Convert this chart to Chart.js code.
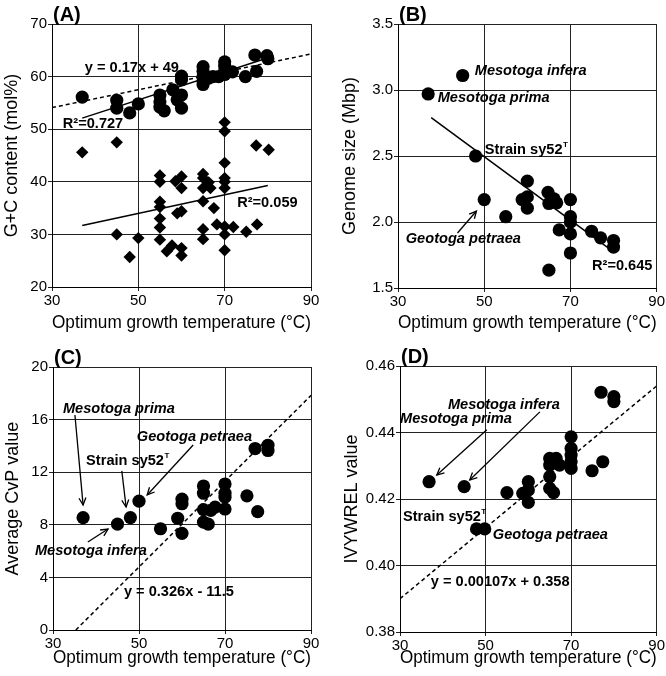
<!DOCTYPE html>
<html>
<head>
<meta charset="utf-8">
<script src="https://cdn.jsdelivr.net/npm/chart.js@4"></script>
<style>
  body { margin: 0; background: #fff; }
  #wrap { position: relative; width: 666px; height: 676px; }
  canvas { position: absolute; }
</style>
</head>
<body>
<div id="wrap">
  <canvas id="chartA" width="333" height="338" style="left:0;top:0"></canvas>
  <canvas id="chartB" width="333" height="338" style="left:333px;top:0"></canvas>
  <canvas id="chartC" width="333" height="338" style="left:0;top:338px"></canvas>
  <canvas id="chartD" width="333" height="338" style="left:333px;top:338px"></canvas>
</div>
<script>
// ---- data ----
const xTicks = [30, 50, 70, 90];

// (A) G+C content, circles (upper) and diamonds (lower)
const tempA1 = [37, 45, 45, 48, 50, 55, 55, 55, 56, 58, 59, 60, 60, 60, 60, 65, 65, 65, 65, 65, 66.3, 67.3, 68.6, 70, 70, 70, 70, 71.8, 74.8, 77, 77.4, 79.8, 80];
const gcA1   = [56.1, 55.5, 54.0, 53.1, 54.8, 56.5, 55.2, 54.2, 53.5, 57.5, 55.6, 54.0, 56.5, 59.4, 60.1, 61.9, 61.0, 60.0, 59.2, 58.5, 59.7, 60.0, 60.0, 62.8, 62.0, 61.0, 60.4, 60.9, 60.0, 64.1, 61.0, 64.0, 63.4];
const tempA2 = [37, 45, 45, 48, 50, 55, 55, 55, 55, 55, 55, 55, 56.6, 57.8, 58.6, 59, 60, 60, 60, 60, 60, 65, 65, 65, 65, 65, 65, 66.3, 66.7, 67.5, 68.2, 70, 70, 70, 70, 70, 70, 70, 70, 70, 72, 75, 77.3, 77.5, 80.2];
const gcA2   = [45.6, 47.5, 30.0, 25.7, 29.3, 41.2, 40.0, 36.2, 35.2, 33.0, 31.3, 29.0, 26.8, 27.9, 40.1, 34.0, 41.0, 38.8, 34.4, 27.4, 26.0, 41.5, 40.7, 38.8, 36.3, 31.0, 29.1, 39.9, 38.8, 35.0, 31.9, 51.3, 49.6, 43.6, 40.7, 40.0, 38.8, 31.5, 30.0, 27.0, 31.4, 30.5, 46.9, 31.9, 46.1];
const fitA1x = [30, 90], fitA1y = [54.1, 64.3];   // y = 0.17x + 49 (dashed)
const fitA2x = [37, 79], fitA2y = [52.1, 63.3];   // solid, circles
const fitA3x = [37, 80], fitA3y = [31.7, 39.3];   // solid, diamonds

// (B) genome size
const tempB = [37, 45, 48, 50, 55, 58.8, 60, 60, 60, 64.8, 65, 66.2, 66.8, 67.4, 70, 70, 70, 70, 70, 65, 74.9, 77, 80, 80];
const sizeB = [2.97, 3.11, 2.50, 2.17, 2.04, 2.17, 2.31, 2.19, 2.105, 2.225, 2.14, 2.175, 2.145, 1.94, 2.17, 2.04, 2.00, 1.91, 1.765, 1.635, 1.93, 1.88, 1.86, 1.81];
const fitBx = [37.7, 79.3], fitBy = [2.79, 1.79];

// (C) average CvP
const tempC = [37, 45, 48, 50, 55, 59, 60, 60, 60, 65, 65, 65, 65, 66.1, 66.7, 67.7, 70, 70, 70, 70, 75.1, 77, 77.6, 80, 80];
const cvpC  = [8.55, 8.05, 8.55, 9.8, 7.7, 8.5, 9.95, 9.6, 7.35, 10.95, 10.4, 9.15, 8.2, 8.05, 9.1, 9.35, 11.1, 10.4, 10.1, 9.2, 10.2, 13.8, 9.0, 14.05, 13.65];
const fitCx = [35.3, 90], fitCy = [0, 17.84];

// (D) IVYWREL
const tempD = [36.8, 45, 47.9, 49.8, 55, 58.7, 60, 60, 60, 65, 65, 65, 65, 65.9, 66.5, 67.3, 70, 70, 70, 70, 70, 74.9, 77, 77.4, 80, 80];
const ivyD  = [0.4252, 0.4237, 0.4110, 0.4110, 0.4219, 0.4217, 0.4252, 0.4227, 0.4190, 0.4322, 0.4302, 0.4267, 0.4232, 0.4219, 0.4322, 0.4302, 0.4387, 0.4352, 0.4332, 0.4312, 0.4292, 0.4285, 0.4521, 0.4312, 0.4508, 0.4493];
const fitDx = [30, 90], fitDy = [0.390, 0.454];

// ---- helpers ----
const FONT = 'Liberation Sans, Arial, Helvetica, sans-serif';
const pts = (xs, ys) => xs.map((x, i) => ({ x, y: ys[i] }));

function scatterSet(xs, ys, shape) {
  return {
    type: 'scatter', data: pts(xs, ys),
    pointStyle: shape || 'circle',
    pointRadius: shape === 'rectRot' ? 6.2 : 6.6,
    backgroundColor: '#000', borderColor: '#000', borderWidth: 0
  };
}
function fitSet(xs, ys, dashed) {
  return {
    type: 'line', data: pts(xs, ys),
    borderColor: '#000', borderWidth: 1.5,
    borderDash: dashed ? [4, 3] : [],
    pointRadius: 0, fill: false
  };
}

// text / arrow annotations, placed in data coordinates
const notes = {
  afterDatasetsDraw(chart) {
    const items = chart.options.plugins.notes.items || [];
    const { ctx, scales: { x, y } } = chart;
    ctx.save();
    ctx.fillStyle = '#000'; ctx.strokeStyle = '#000';
    items.forEach(it => {
      if (it.arrow) {
        const x0 = x.getPixelForValue(it.arrow[0]), y0 = y.getPixelForValue(it.arrow[1]);
        const x1 = x.getPixelForValue(it.arrow[2]), y1 = y.getPixelForValue(it.arrow[3]);
        ctx.lineWidth = 1.3;
        ctx.beginPath(); ctx.moveTo(x0, y0); ctx.lineTo(x1, y1); ctx.stroke();
        const a = Math.atan2(y1 - y0, x1 - x0), h = 8;
        ctx.beginPath();
        ctx.moveTo(x1 - h * Math.cos(a - 0.45), y1 - h * Math.sin(a - 0.45));
        ctx.lineTo(x1, y1);
        ctx.lineTo(x1 - h * Math.cos(a + 0.45), y1 - h * Math.sin(a + 0.45));
        ctx.stroke();
        return;
      }
      const px = x.getPixelForValue(it.x), py = y.getPixelForValue(it.y);
      ctx.font = (it.italic ? 'italic ' : '') + 'bold 14.6px ' + FONT;
      ctx.textAlign = 'left'; ctx.textBaseline = 'middle';
      ctx.fillText(it.text, px, py);
      if (it.sup) {
        const w = ctx.measureText(it.text).width;
        ctx.font = 'bold 8px ' + FONT;
        ctx.fillText(it.sup, px + w + 0.5, py - 5);
      }
    });
    ctx.restore();
  }
};
const panelLabel = {
  afterDraw(chart) {
    const { ctx, chartArea } = chart;
    ctx.save();
    ctx.font = 'bold 20px ' + FONT;
    ctx.fillStyle = '#000';
    ctx.textAlign = 'left'; ctx.textBaseline = 'bottom';
    ctx.fillText(chart.options.plugins.notes.label, chartArea.left + 1, chartArea.top + 1);
    ctx.restore();
  }
};

function makeChart(id, cfg) {
  return new Chart(document.getElementById(id), {
    type: 'scatter',
    data: { datasets: cfg.datasets },
    options: {
      responsive: false, animation: false, events: [],
      layout: { padding: { top: cfg.top, right: cfg.right, left: 0, bottom: 0 } },
      plugins: { legend: { display: false }, tooltip: { enabled: false },
                 notes: { items: cfg.notes, label: cfg.label } },
      scales: {
        x: {
          type: 'linear', min: 30, max: 90,
          afterBuildTicks: s => { s.ticks = xTicks.map(v => ({ value: v })); },
          afterFit: s => { s.height = cfg.xH; },
          ticks: { color: '#000', font: { family: FONT, size: 15 }, padding: 1, maxRotation: 0 },
          grid: { color: '#222', lineWidth: 1, tickLength: 4 },
          border: { color: '#000', width: 1 },
          title: { display: true, text: 'Optimum growth temperature (°C)', color: '#000',
                   font: { family: FONT, size: 18 }, padding: { top: 0, bottom: cfg.xTitlePad } }
        },
        y: {
          type: 'linear', min: cfg.yMin, max: cfg.yMax,
          afterBuildTicks: s => { s.ticks = cfg.yTicks.map(v => ({ value: v })); },
          afterFit: s => { s.width = cfg.yW; },
          ticks: { color: '#000', font: { family: FONT, size: 15 }, padding: 1,
                   callback: v => v.toFixed(cfg.dec) },
          grid: { color: '#222', lineWidth: 1, tickLength: 4 },
          border: { color: '#000', width: 1 },
          title: { display: true, text: cfg.yTitle, color: '#000',
                   font: { family: FONT, size: 18 }, padding: { top: cfg.yTitlePad, bottom: 0 } }
        }
      }
    },
    plugins: [notes, panelLabel]
  });
}

makeChart('chartA', {
  label: '(A)', top: 24, right: 22, xH: 51, yW: 52, xTitlePad: 4, yTitlePad: 1,
  yMin: 20, yMax: 70, yTicks: [20, 30, 40, 50, 60, 70], dec: 0,
  yTitle: 'G+C content (mol%)',
  datasets: [fitSet(fitA1x, fitA1y, true), fitSet(fitA2x, fitA2y), fitSet(fitA3x, fitA3y),
             scatterSet(tempA1, gcA1), scatterSet(tempA2, gcA2, 'rectRot')],
  notes: [
    { text: 'y = 0.17x + 49', x: 37.6, y: 61.6 },
    { text: 'R²=0.727', x: 32.5, y: 51.0 },
    { text: 'R²=0.059', x: 72.9, y: 36.0 }
  ]
});

makeChart('chartB', {
  label: '(B)', top: 24, right: 8, xH: 50, yW: 65, xTitlePad: 4, yTitlePad: 6,
  yMin: 1.5, yMax: 3.5, yTicks: [1.5, 2.0, 2.5, 3.0, 3.5], dec: 1,
  yTitle: 'Genome size (Mbp)',
  datasets: [fitSet(fitBx, fitBy), scatterSet(tempB, sizeB)],
  notes: [
    { text: 'Mesotoga infera', italic: true, x: 47.8, y: 3.144 },
    { text: 'Mesotoga prima', italic: true, x: 39.2, y: 2.94 },
    { text: 'Strain sy52', sup: 'T', x: 50.1, y: 2.545 },
    { text: 'Geotoga petraea', italic: true, x: 31.8, y: 1.871 },
    { arrow: [43.8, 1.917, 48.2, 2.083] },
    { text: 'R²=0.645', x: 75, y: 1.667 }
  ]
});

makeChart('chartC', {
  label: '(C)', top: 29, right: 22, xH: 46, yW: 53, xTitlePad: 7, yTitlePad: 2,
  yMin: 0, yMax: 20, yTicks: [0, 4, 8, 12, 16, 20], dec: 0,
  yTitle: 'Average CvP value',
  datasets: [fitSet(fitCx, fitCy, true), scatterSet(tempC, cvpC)],
  notes: [
    { text: 'Mesotoga prima', italic: true, x: 32.3, y: 16.8 },
    { arrow: [35.1, 16.35, 37.0, 9.5] },
    { text: 'Strain sy52', sup: 'T', x: 37.7, y: 12.85 },
    { arrow: [46.0, 12.1, 47.0, 9.35] },
    { text: 'Geotoga petraea', italic: true, x: 49.5, y: 14.7 },
    { arrow: [62.6, 14.07, 51.9, 10.27] },
    { text: 'Mesotoga infera', italic: true, x: 25.8, y: 6.0 },
    { arrow: [38.1, 6.69, 42.8, 7.68] },
    { text: 'y = 0.326x - 11.5', x: 46.5, y: 2.9 }
  ]
});

makeChart('chartD', {
  label: '(D)', top: 28, right: 9, xH: 44, yW: 67, xTitlePad: 7, yTitlePad: 8,
  yMin: 0.38, yMax: 0.46, yTicks: [0.38, 0.40, 0.42, 0.44, 0.46], dec: 2,
  yTitle: 'IVYWREL value',
  datasets: [fitSet(fitDx, fitDy, true), scatterSet(tempD, ivyD)],
  notes: [
    { text: 'Mesotoga infera', italic: true, x: 41.2, y: 0.4483 },
    { arrow: [62.7, 0.4462, 46.3, 0.4257] },
    { text: 'Mesotoga prima', italic: true, x: 30.0, y: 0.4441 },
    { arrow: [50.3, 0.4408, 38.6, 0.4272] },
    { text: 'Strain sy52', sup: 'T', x: 30.7, y: 0.4146 },
    { text: 'Geotoga petraea', italic: true, x: 51.7, y: 0.4092 },
    { text: 'y = 0.00107x + 0.358', x: 37.2, y: 0.395 }
  ]
});
</script>
</body>
</html>
